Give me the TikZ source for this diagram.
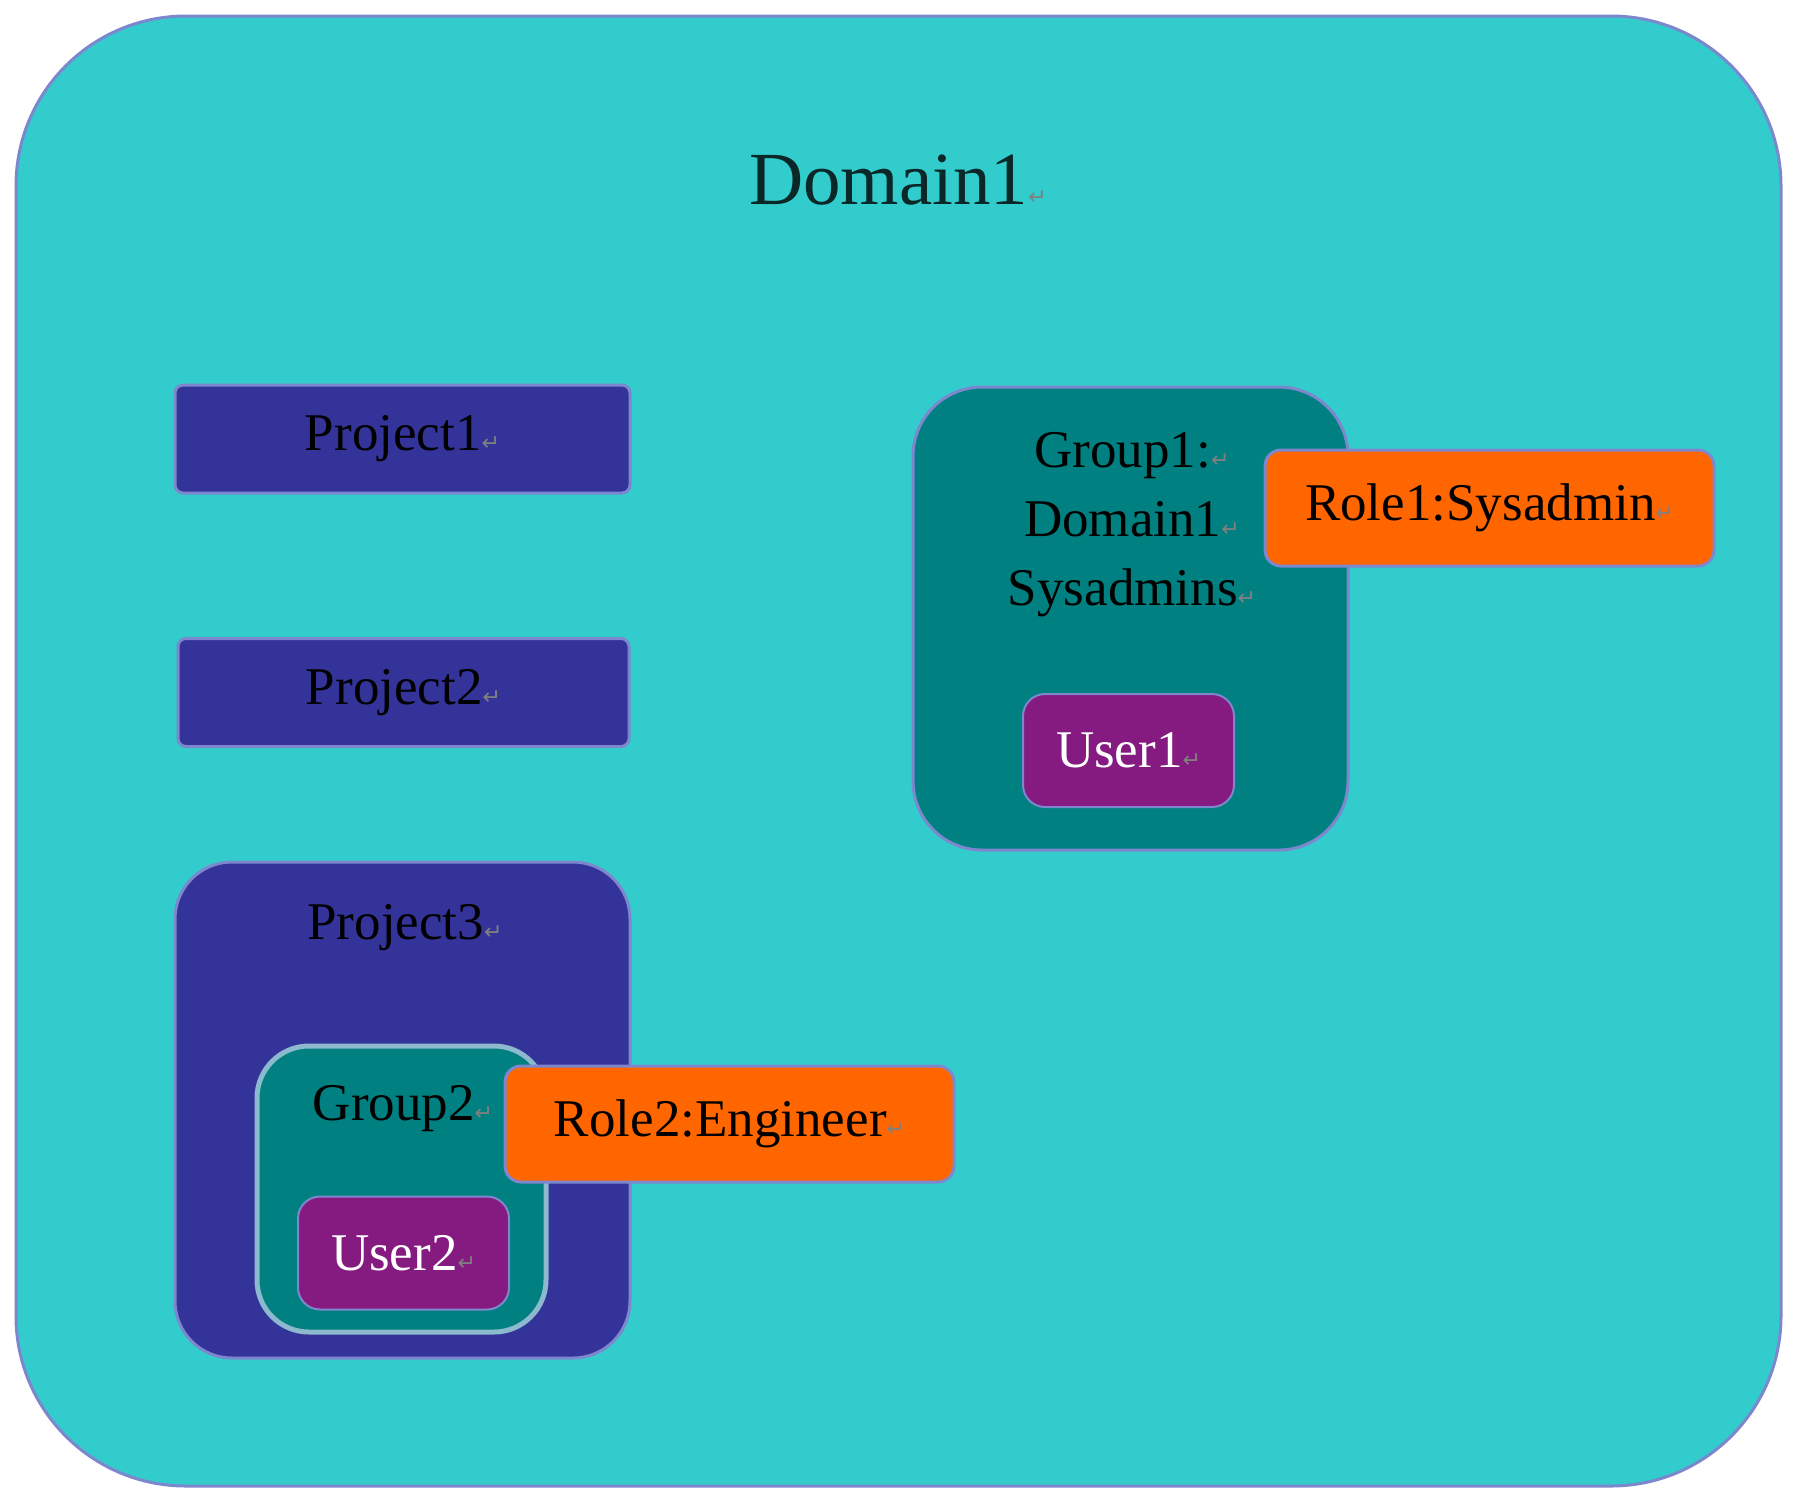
\documentclass[tikz,border=0pt]{standalone}
\usepackage{fontspec}
\setmainfont{Liberation Serif}
\newfontfamily\marksymfont{DejaVu Sans}
\usepackage{xcolor}
\usetikzlibrary{positioning}

\definecolor{domaincyan}{RGB}{51,204,204}
\definecolor{projblue}{RGB}{51,51,153}
\definecolor{groupteal}{RGB}{0,128,128}
\definecolor{userpurple}{RGB}{133,26,128}
\definecolor{roleorange}{RGB}{255,102,0}
\definecolor{edgeblue}{RGB}{125,135,205}
\definecolor{edgelight}{RGB}{140,185,205}
\definecolor{titleink}{RGB}{10,40,40}

% paragraph mark after each text
\newcommand{\retmark}{{\marksymfont\color{gray}\fontsize{22}{22}\selectfont ↵}}

\tikzset{
  boxtext/.style={font=\fontsize{53}{69}\selectfont, inner sep=0pt},
  domainbox/.style={draw=edgeblue, line width=3pt, fill=domaincyan, rounded corners=170pt, minimum width=1765pt, minimum height=1470pt},
  projbox/.style={boxtext, draw=edgeblue, line width=3pt, fill=projblue, rounded corners=8pt, minimum width=455pt, minimum height=108pt},
  groupbox/.style={draw=edgeblue, line width=3pt, fill=groupteal, inner sep=0pt},
  userbox/.style={boxtext, text=white, draw=edgeblue, line width=2pt, fill=userpurple, rounded corners=22pt, minimum width=211pt, minimum height=113pt},
  rolebox/.style={boxtext, draw=edgeblue, line width=3pt, fill=roleorange, rounded corners=16pt, minimum width=449pt, minimum height=116pt}
}

\begin{document}
\begin{tikzpicture}[x=1pt,y=1pt,yscale=-1]
\useasboundingbox (0,0) rectangle (1796,1500);

% domain
\node[domainbox] (domain1) at (898.5,751) {};
\node[font=\fontsize{75}{75}\selectfont, text=titleink, inner sep=0pt] (domaintitle) at (898,180) {Domain1\retmark};

% projects
\node[projbox] (project1) at (402.5,439) {Project1\retmark};
\node[projbox, minimum width=451pt] (project2) at (403.5,692.5) {Project2\retmark};
\node[projbox, rounded corners=57pt, minimum height=496pt] (project3) at (402.5,1110) {};
\node[boxtext] (project3text) at (405,928) {Project3\retmark};

% group2 inside project3
\node[groupbox, draw=edgelight, line width=5pt, rounded corners=52pt, minimum width=289pt, minimum height=286pt] (group2) at (401.5,1189) {};
\node[boxtext] (group2text) at (403,1109) {Group2\retmark};
\node[userbox] (user2) at (403.5,1253) {User2\retmark};
\node[rolebox] (role2) at (729.5,1124) {Role2:Engineer\retmark};

% group1
\node[groupbox, rounded corners=69pt, minimum width=435pt, minimum height=463pt] (group1) at (1130.5,618.5) {};
\node[boxtext, align=center] (group1text) at (1132,525) {Group1:\retmark\\Domain1\retmark\\Sysadmins\retmark};
\node[userbox] (user1) at (1128.5,750.5) {User1\retmark};
\node[rolebox] (role1) at (1489.5,508) {Role1:Sysadmin\retmark};

\end{tikzpicture}
\end{document}
